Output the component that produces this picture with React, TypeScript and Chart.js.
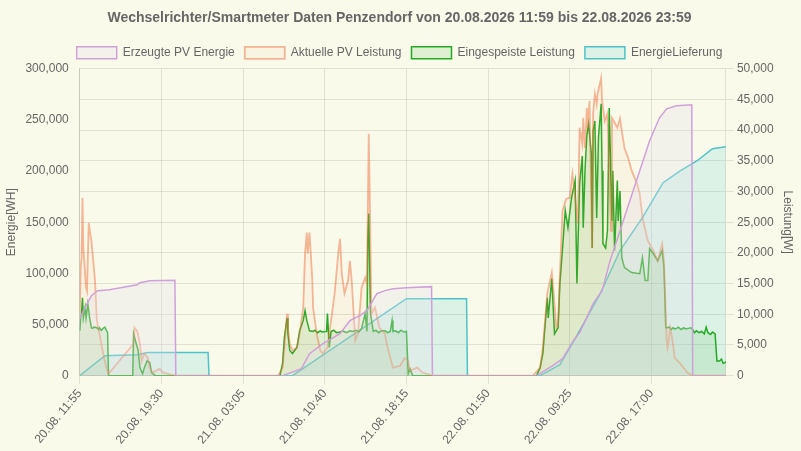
import React, { useEffect, useRef } from 'react';
import { Chart, registerables } from 'chart.js';

Chart.register(...registerables);

// x positions are 5-minute sample indexes starting at 20.08. 11:55 (0 .. 720)
const xMax = 720;
const labelStep = 91;
const xTickLabels = [
  '20.08. 11:55',
  '20.08. 19:30',
  '21.08. 03:05',
  '21.08. 10:40',
  '21.08. 18:15',
  '22.08. 01:50',
  '22.08. 09:25',
  '22.08. 17:00',
];

const energyTicks = [0, 50000, 100000, 150000, 200000, 250000, 300000];
const powerTicks = [0, 5000, 10000, 15000, 20000, 25000, 30000, 35000, 40000, 45000, 50000];

// Erzeugte PV Energie [WH] (left axis)
const pvEnergy: [number, number][] = [
  [0, 55700], [7, 68400], [13, 78200], [20, 83000], [33, 84000], [64, 88900], [67, 90900], [78, 92800], [106, 93300], [107, 0],
  [226, 0], [247, 6800], [256, 21500], [271, 31300], [290, 41000], [301, 53700], [312, 58600], [320, 63500], [331, 80100],
  [340, 83100], [349, 85000], [364, 86000], [392, 87000], [393, 0],
  [509, 0], [527, 9800], [538, 16600], [550, 34200], [557, 42000], [565, 56700], [572, 70400], [582, 83000], [591, 112400],
  [602, 141700], [613, 171000], [624, 200300], [635, 229600], [646, 252100], [654, 260900], [665, 263800], [682, 264800],
  [683, 0], [720, 0],
];

// Aktuelle PV Leistung [W] (right axis)
const pvPower: [number, number][] = [
  [0, 10100], [1, 17600], [2, 19200], [3, 29000], [4, 20800], [7, 14300], [8, 13800], [10, 24900], [12, 22800], [13, 22000],
  [16, 17100], [17, 15500], [19, 9000], [22, 6800], [26, 3600], [30, 1100], [32, 300], [60, 5200], [61, 7800], [64, 7300],
  [67, 5200], [69, 2400], [72, 3600], [76, 2900], [78, 1300], [81, 500], [89, 1100], [93, 500], [106, 0],
  [221, 0], [226, 1300], [231, 10100], [232, 7800], [234, 5200], [237, 4100], [242, 4600], [245, 6800], [249, 11100],
  [251, 19900], [253, 23300], [254, 19900], [256, 23300], [259, 16000], [260, 11100], [264, 6800], [268, 4100], [271, 3600],
  [276, 4600], [281, 10100], [284, 13400], [288, 19900], [290, 22300], [292, 16600], [295, 13400], [299, 15500], [301, 18700],
  [303, 15500], [307, 5700], [310, 6800], [314, 14300], [318, 16000], [320, 15000], [322, 39400], [323, 30600], [325, 10100],
  [329, 11100], [334, 7800], [340, 6800], [343, 4600], [349, 1300], [357, 1600], [362, 2900], [366, 2400], [368, 800],
  [376, 1300], [382, 500], [393, 0],
  [505, 0], [513, 1300], [516, 4600], [521, 13400], [526, 16800], [529, 11700], [531, 7800], [533, 8500], [535, 16600],
  [538, 26900], [542, 28800], [546, 29000], [549, 32900], [552, 29000], [555, 24800], [557, 40400], [560, 37800], [561, 42000],
  [563, 37100], [565, 43600], [566, 40400], [568, 44800], [571, 20800], [572, 42700], [574, 45900], [576, 44300], [577, 45900],
  [581, 48500], [582, 44800], [585, 41500], [588, 42700], [592, 23600], [593, 42000], [595, 41500], [599, 40400], [602, 41900],
  [604, 39900], [607, 37100], [611, 35500], [615, 33400], [621, 31300], [624, 29600], [627, 25700], [633, 22000], [639, 20400],
  [644, 18700], [649, 21500], [651, 18700], [654, 5700], [655, 4600], [658, 7800], [660, 6200], [663, 2900], [669, 2000],
  [677, 500], [683, 0], [720, 0],
];

// Eingespeiste Leistung [W] (right axis)
const feedInPower: [number, number][] = [
  [0, 7300], [1, 9400], [2, 10100], [3, 12700], [4, 9400], [6, 11100], [7, 9400], [9, 11700], [11, 9400], [13, 7800],
  [14, 7700], [16, 7900], [19, 7800], [21, 7500], [22, 7800], [24, 7400], [26, 7700], [28, 7900], [30, 7300], [31, 7000],
  [32, 0], [59, 0], [60, 6800], [62, 5700], [65, 4100], [67, 1300], [70, 300], [72, 1300], [75, 2400], [78, 2100], [80, 500], [84, 0],
  [223, 0], [226, 2000], [228, 6200], [231, 9400], [232, 6800], [234, 4100], [237, 3600], [242, 4600], [245, 7300], [249, 9000],
  [251, 10600], [253, 9000], [256, 7300], [260, 7200], [262, 7400], [265, 7000], [268, 7300], [270, 7100], [275, 7200],
  [276, 10100], [278, 4600], [280, 7200], [283, 7400], [286, 7000], [290, 7100], [293, 7300], [297, 7000], [301, 7300],
  [304, 7200], [308, 7400], [311, 7100], [314, 7700], [318, 10100], [320, 7200], [321, 22500], [322, 26400], [324, 10100],
  [327, 7200], [330, 7400], [333, 7000], [336, 7300], [340, 7300], [343, 7000], [346, 7200], [348, 9000], [349, 7200],
  [352, 7300], [355, 7000], [358, 7400], [361, 7100], [364, 7200], [366, 300], [368, 1100], [371, 0],
  [509, 0], [513, 1300], [516, 3600], [521, 12700], [522, 9400], [526, 15800], [529, 6800], [533, 7800], [535, 15000],
  [538, 20800], [541, 26900], [544, 24100], [548, 29000], [552, 31800], [554, 15000], [557, 31300], [560, 35800], [561, 24100],
  [563, 33400], [565, 39100], [567, 41000], [570, 36200], [571, 20800], [572, 39900], [574, 41500], [576, 25700], [578, 38800],
  [581, 44300], [582, 33400], [583, 21500], [586, 20800], [588, 23600], [590, 43600], [593, 25200], [594, 33400], [596, 20400],
  [599, 31800], [600, 25200], [602, 30100], [604, 19200], [607, 17600], [615, 16800], [624, 16600], [627, 19200], [630, 15500],
  [633, 15500], [635, 20700], [639, 19900], [644, 18700], [649, 20400], [651, 17600], [653, 7800], [655, 7800], [657, 7900],
  [659, 7500], [661, 7800], [663, 7600], [665, 7700], [667, 7900], [670, 7500], [673, 7800], [675, 7600], [678, 7700],
  [681, 7800], [683, 7500], [685, 7000], [687, 7300], [690, 7000], [693, 7200], [696, 6800], [698, 7900], [700, 7000],
  [703, 6700], [705, 7100], [708, 6800], [710, 2400], [713, 2400], [715, 2700], [717, 2000], [719, 2100], [720, 2300],
];

// EnergieLieferung [WH] (left axis)
const energyDelivery: [number, number][] = [
  [0, 0], [28, 19500], [64, 20500], [76, 22500], [143, 22500], [144, 0],
  [237, 0], [364, 75200], [431, 75200], [432, 0],
  [513, 0], [535, 10700], [554, 39100], [580, 80100], [602, 122200], [627, 154400], [650, 188600], [669, 200300],
  [688, 210100], [705, 221800], [720, 223800],
];

const toPoints = (arr: [number, number][]) => arr.map(([x, y]) => ({ x, y }));

const FONT = "'Liberation Sans', Arial, Helvetica, sans-serif";
const TEXT = '#666666';
const BG = '#fafaeb';

export default function App() {
  const ref = useRef<HTMLCanvasElement>(null);

  useEffect(() => {
    document.body.style.margin = '0';
    document.body.style.background = BG;
    const canvas = ref.current;
    if (!canvas) return;

    const bgPlugin = {
      id: 'bgFill',
      beforeDraw(c: any) {
        const ctx = c.ctx;
        ctx.save();
        ctx.fillStyle = BG;
        ctx.fillRect(0, 0, c.width, c.height);
        ctx.restore();
      },
    };

    Chart.defaults.font.family = FONT;
    Chart.defaults.color = TEXT;

    const chart = new Chart(canvas, {
      type: 'line',
      data: {
        datasets: [
          {
            label: 'Erzeugte PV Energie',
            data: toPoints(pvEnergy),
            yAxisID: 'yE',
            borderColor: 'rgb(208,160,218)',
            backgroundColor: 'rgba(225,225,235,0.3)',
            borderWidth: 1.5,
            fill: 'origin',
          },
          {
            label: 'Aktuelle PV Leistung',
            data: toPoints(pvPower),
            yAxisID: 'yP',
            borderColor: 'rgba(240,115,65,0.5)',
            backgroundColor: 'rgba(245,160,120,0.08)',
            borderWidth: 1.8,
            fill: 'origin',
          },
          {
            label: 'Eingespeiste Leistung',
            data: toPoints(feedInPower),
            yAxisID: 'yP',
            borderColor: 'rgb(34,170,34)',
            backgroundColor: 'rgba(34,170,34,0.12)',
            borderWidth: 1.5,
            fill: 'origin',
          },
          {
            label: 'EnergieLieferung',
            data: toPoints(energyDelivery),
            yAxisID: 'yE',
            borderColor: 'rgb(76,195,200)',
            backgroundColor: 'rgba(60,200,210,0.15)',
            borderWidth: 1.5,
            fill: 'origin',
          },
        ],
      },
      options: {
        responsive: false,
        animation: false,
        elements: { point: { radius: 0, hoverRadius: 0 }, line: { tension: 0 } },
        layout: { padding: { left: 0, right: 2, top: 0, bottom: 1 } },
        plugins: {
          title: {
            display: true,
            text: 'Wechselrichter/Smartmeter Daten Penzendorf von 20.08.2026 11:59 bis 22.08.2026 23:59',
            color: TEXT,
            font: { family: FONT, size: 14, weight: 'bold' },
            padding: { top: 10, bottom: 10 },
          },
          legend: {
            display: true,
            labels: { boxWidth: 40, color: TEXT, font: { family: FONT, size: 12 } },
          },
          tooltip: { enabled: false },
        },
        scales: {
          x: {
            type: 'linear',
            min: 0,
            max: xMax,
            afterBuildTicks: (scale: any) => {
              scale.ticks = xTickLabels.map((_, k) => ({ value: k * labelStep }));
            },
            ticks: {
              autoSkip: false,
              minRotation: 50,
              maxRotation: 50,
              color: TEXT,
              font: { family: FONT, size: 12 },
              callback: (value: any) => {
                const k = Math.round(Number(value) / labelStep);
                return xTickLabels[k] ?? '';
              },
            },
            grid: { color: 'rgba(0,0,0,0.1)' },
          },
          yE: {
            type: 'linear',
            position: 'left',
            min: 0,
            max: 300000,
            afterBuildTicks: (scale: any) => {
              scale.ticks = energyTicks.map((v) => ({ value: v }));
            },
            ticks: { color: TEXT, font: { family: FONT, size: 12 } },
            grid: { display: false },
            title: { display: true, text: 'Energie[WH]', color: TEXT, font: { family: FONT, size: 12 } },
          },
          yP: {
            type: 'linear',
            position: 'right',
            min: 0,
            max: 50000,
            afterBuildTicks: (scale: any) => {
              scale.ticks = powerTicks.map((v) => ({ value: v }));
            },
            ticks: { color: TEXT, font: { family: FONT, size: 12 } },
            grid: { color: 'rgba(0,0,0,0.1)' },
            title: { display: true, text: 'Leistung[W]', color: TEXT, font: { family: FONT, size: 12 } },
          },
        },
      },
      plugins: [bgPlugin],
    } as any);

    return () => chart.destroy();
  }, []);

  return (
    <div style={{ width: 801, height: 451 }}>
      <canvas ref={ref} width={801} height={451} />
    </div>
  );
}
